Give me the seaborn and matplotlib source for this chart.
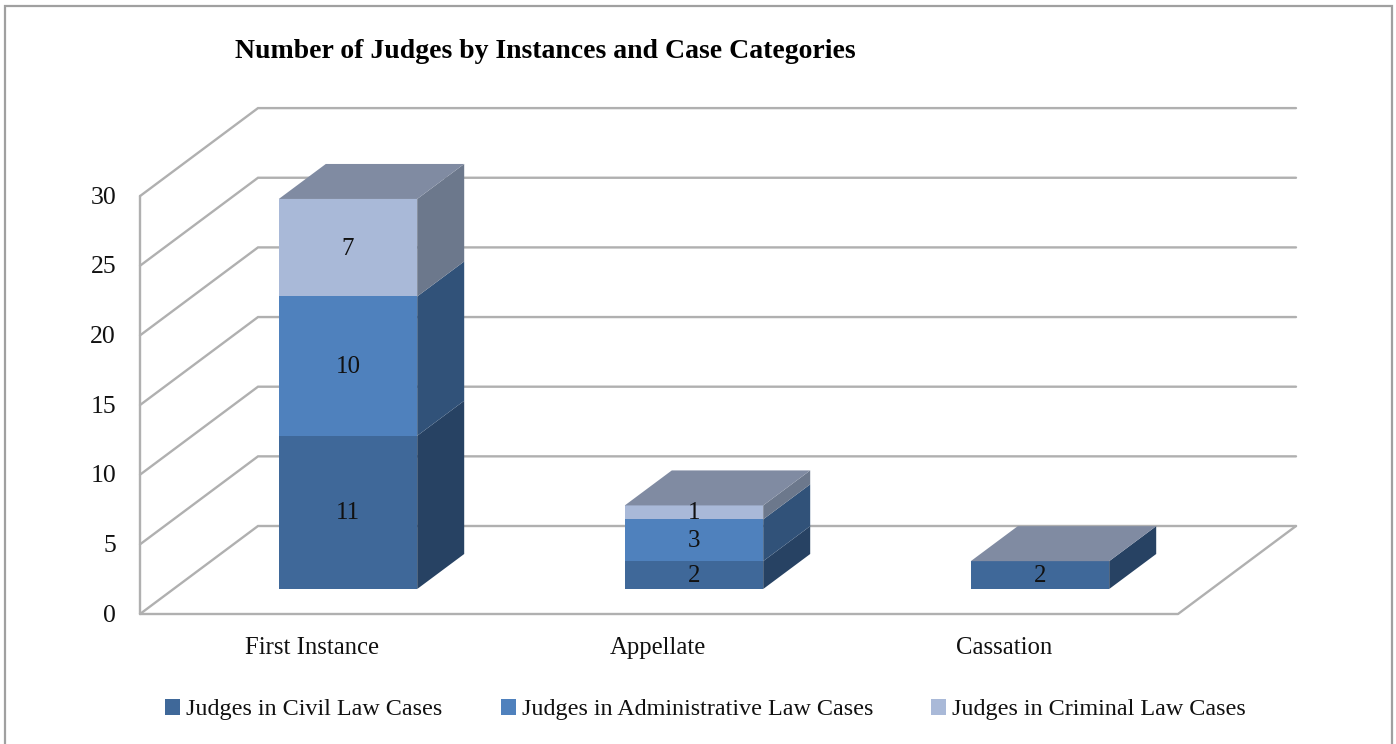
import numpy as np
import matplotlib
matplotlib.use("Agg")
import matplotlib.pyplot as plt
from matplotlib.patches import Polygon, Rectangle
import seaborn as sns

categories = ['First Instance', 'Appellate', 'Cassation']
series_names = ['Judges in Civil Law Cases', 'Judges in Administrative Law Cases', 'Judges in Criminal Law Cases']
civil = [11, 2, 2]
administrative = [10, 3, 0]
criminal = [7, 1, 0]
y_ticks = [0, 5, 10, 15, 20, 25, 30]

front_colors = ['#3F6899', '#4F81BD', '#A9B9D8']
side_colors = ['#274263', '#315279', '#6C788C']
top_color = '#808BA2'
line_color = '#B0B0B0'

sns.set_theme(style='white')
plt.rcParams['font.family'] = ['Liberation Serif', 'DejaVu Serif']

# pixel scale of the picture: one category step and one value unit
px_cat = 346.0
px_val = 13.93
x_zero = 348.0
y_zero = 589.0

fig, ax = plt.subplots(figsize=(13.96, 7.44), dpi=100)
ax.set_position([0, 0, 1, 1])


def xu(px):
    return px / px_cat


def yu(px):
    return px / px_val


# --- stacked front faces ---
bottom = np.zeros(len(categories))
tops = []
for values, name, col in zip([civil, administrative, criminal], series_names, front_colors):
    sns.barplot(x=categories, y=values, bottom=bottom, color=col, saturation=1,
                width=0.4, label=name, linewidth=0, zorder=3, legend=False, ax=ax)
    tops.append((bottom.copy(), bottom + np.array(values)))
    bottom = bottom + np.array(values)

ax.set_xlim((0 - x_zero) / px_cat, (1396 - x_zero) / px_cat)
ax.set_ylim((y_zero - 744) / px_val, y_zero / px_val)
ax.axis('off')

# --- walls and floor ---
wall_dx, wall_dy = xu(118), yu(88)
wall_x = xu(140 - x_zero)
wall_y = yu(y_zero - 614)
right_x = xu(1178 - x_zero)
for t in y_ticks:
    ax.plot([wall_x, wall_x + wall_dx, right_x + wall_dx],
            [wall_y + t, wall_y + t + wall_dy, wall_y + t + wall_dy],
            color=line_color, lw=1.7, zorder=1, solid_joinstyle='miter')
    ax.text(wall_x - xu(24), wall_y + t - yu(1.5), str(t), ha='right', va='center',
            fontsize=18.5, color='#111111')
ax.plot([wall_x, wall_x], [wall_y, wall_y + y_ticks[-1]], color=line_color, lw=1.7, zorder=1)
ax.plot([wall_x, right_x, right_x + wall_dx], [wall_y, wall_y, wall_y + wall_dy],
        color=line_color, lw=1.7, zorder=1)

# --- 3d sides, tops, value labels ---
half = 0.2
dx, dy = xu(47), yu(35)
for i in range(len(categories)):
    for (lo, hi), col, vals in zip(tops, side_colors, [civil, administrative, criminal]):
        if vals[i] == 0:
            continue
        ax.add_patch(Polygon([(i + half, lo[i]), (i + half + dx, lo[i] + dy),
                              (i + half + dx, hi[i] + dy), (i + half, hi[i])],
                             facecolor=col, edgecolor='none', zorder=3))
        ax.text(i, (lo[i] + hi[i]) / 2 - yu(1), str(vals[i]), ha='center', va='center',
                fontsize=18, color='#111111', zorder=4)
    total = bottom[i]
    ax.add_patch(Polygon([(i - half, total), (i + half, total),
                          (i + half + dx, total + dy), (i - half + dx, total + dy)],
                         facecolor=top_color, edgecolor='none', zorder=3))

# --- category labels ---
for i, cat in enumerate(categories):
    ax.text(i - xu(36), yu(y_zero - 654), cat, ha='center', va='baseline',
            fontsize=17.8, color='#111111')

# --- legend ---
handles, labels = ax.get_legend_handles_labels()
ax.legend(handles, labels, ncol=3, loc='center', bbox_to_anchor=(0.5055, 0.0462),
          bbox_transform=fig.transFigure, frameon=False, fontsize=17.4,
          handlelength=0.62, handleheight=0.62, handletextpad=0.25, columnspacing=2.4,
          labelcolor='#111111', borderpad=0, borderaxespad=0)

fig.text(235 / 1396, 1 - 51 / 744, 'Number of Judges by Instances and Case Categories',
         ha='left', va='center', fontsize=20, fontweight='bold', color='black')

# chart frame
fig.add_artist(Rectangle((5 / 1396, -0.02), 1387 / 1396, 1.02 - 6 / 744, transform=fig.transFigure,
                         fill=False, edgecolor='#A0A0A0', linewidth=1.6))

fig.savefig('out.png', dpi=100)
